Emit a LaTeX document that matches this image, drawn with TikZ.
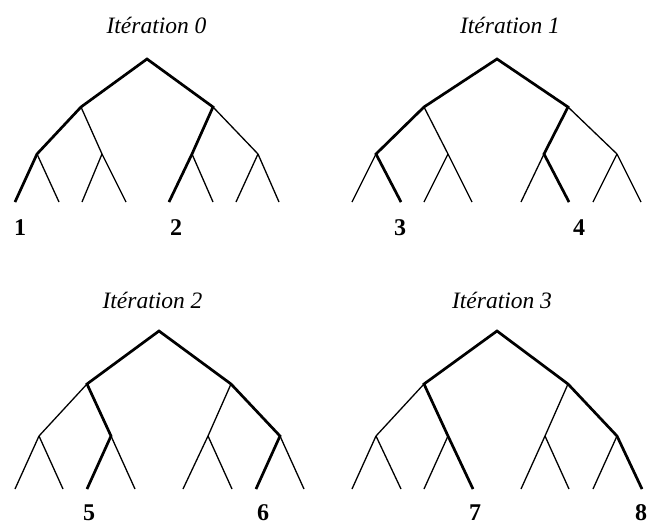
\documentclass[tikz,border=0pt]{standalone}
\usepackage{fontspec}
\setmainfont{Liberation Serif}
\begin{document}
\begin{tikzpicture}[x=1pt,y=-1pt,
  thinedge/.style={line width=1.3pt},
  thickedge/.style={line width=2.7pt},
  title/.style={font=\fontsize{23.5}{28}\selectfont\itshape, anchor=base, inner sep=0pt},
  num/.style={font=\fontsize{24}{28}\selectfont\bfseries, anchor=base, inner sep=0pt}]
\useasboundingbox (0,0) rectangle (649,525);
% tree 0
\coordinate (0-r) at (147,59);
\coordinate (0-a) at (81,107);   \coordinate (0-b) at (213,107);
\coordinate (0-aa) at (37,154);  \coordinate (0-ab) at (102,154);
\coordinate (0-ba) at (192,154); \coordinate (0-bb) at (258,154);
\foreach \i/\x in {1/15,2/59,3/82,4/126,5/169,6/213,7/236,8/279} \coordinate (0-\i) at (\x,202);
% tree 1
\coordinate (1-r) at (497,59);
\coordinate (1-a) at (424,107);  \coordinate (1-b) at (568,107);
\coordinate (1-aa) at (376,154); \coordinate (1-ab) at (448,154);
\coordinate (1-ba) at (544,154); \coordinate (1-bb) at (617,154);
\foreach \i/\x in {1/352,2/401,3/424,4/472,5/521,6/569,7/593,8/641} \coordinate (1-\i) at (\x,202);
% tree 2
\coordinate (2-r) at (159,331);
\coordinate (2-a) at (87,384);   \coordinate (2-b) at (231,384);
\coordinate (2-aa) at (39,436);  \coordinate (2-ab) at (111,436);
\coordinate (2-ba) at (208,436); \coordinate (2-bb) at (280,436);
\foreach \i/\x in {1/15,2/63,3/87,4/135,5/183,6/232,7/256,8/304} \coordinate (2-\i) at (\x,489);
% tree 3
\coordinate (3-r) at (497,331);
\coordinate (3-a) at (424,384);  \coordinate (3-b) at (568,384);
\coordinate (3-aa) at (376,436); \coordinate (3-ab) at (448,436);
\coordinate (3-ba) at (545,436); \coordinate (3-bb) at (617,436);
\foreach \i/\x in {1/352,2/401,3/424,4/473,5/521,6/569,7/593,8/642} \coordinate (3-\i) at (\x,489);
% thin edges
\foreach \t in {0,1,2,3}{
  \foreach \p/\c in {r/a,r/b,a/aa,a/ab,b/ba,b/bb,aa/1,aa/2,ab/3,ab/4,ba/5,ba/6,bb/7,bb/8}
    \draw[thinedge] (\t-\p) -- (\t-\c);
}
% thick edges
\draw[thickedge] (0-1) -- (0-aa) -- (0-a) -- (0-r) -- (0-b) -- (0-ba) -- (0-5);
\draw[thickedge] (1-2) -- (1-aa) -- (1-a) -- (1-r) -- (1-b) -- (1-ba) -- (1-6);
\draw[thickedge] (2-3) -- (2-ab) -- (2-a) -- (2-r) -- (2-b) -- (2-bb) -- (2-7);
\draw[thickedge] (3-4) -- (3-ab) -- (3-a) -- (3-r) -- (3-b) -- (3-bb) -- (3-8);
% titles
\node[title] (t0) at (156.5,33) {Itération 0};
\node[title] (t1) at (510,33) {Itération 1};
\node[title] (t2) at (152.5,308) {Itération 2};
\node[title] (t3) at (502,308) {Itération 3};
% numbers
\node[num] (n1) at (20,235) {1};
\node[num] (n2) at (176,235) {2};
\node[num] (n3) at (400,235) {3};
\node[num] (n4) at (579,235) {4};
\node[num] (n5) at (89,520) {5};
\node[num] (n6) at (263,520) {6};
\node[num] (n7) at (475,520) {7};
\node[num] (n8) at (641,520) {8};
\end{tikzpicture}
\end{document}
